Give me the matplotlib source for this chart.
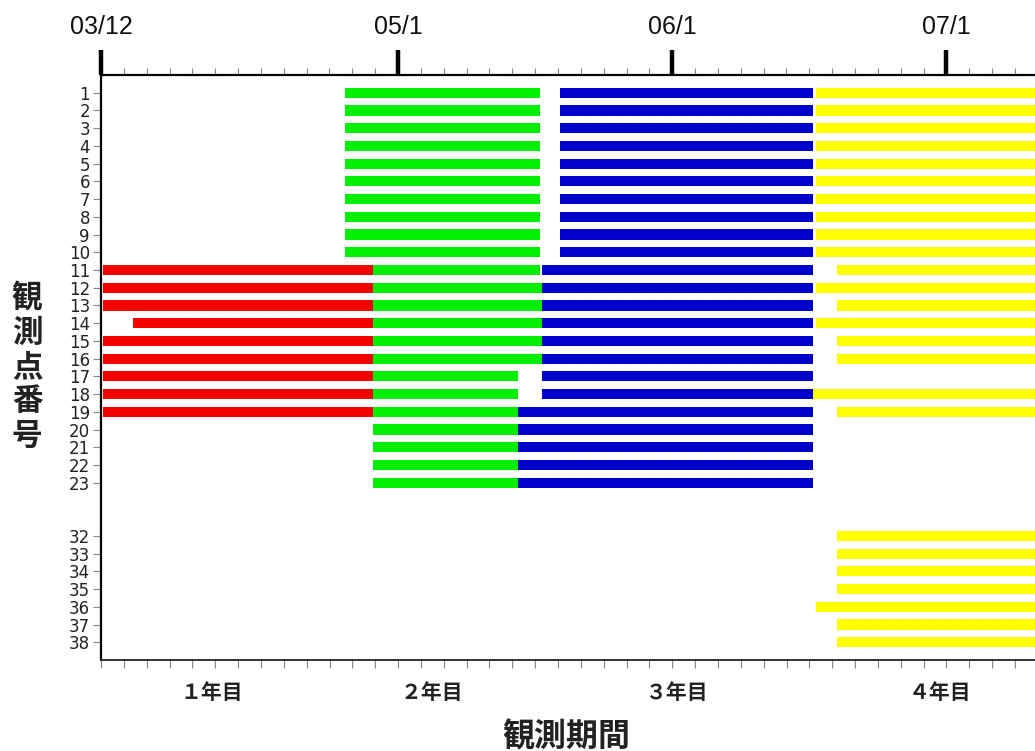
import matplotlib
matplotlib.use("Agg")
import matplotlib.pyplot as plt

plt.rcParams['font.family'] = ['Noto Sans CJK JP', 'DejaVu Sans']

# x unit: months since Dec 2003 (03/12)
rows = list(range(1, 24)) + list(range(32, 39))
row_pos = list(range(0, 23)) + list(range(25, 32))

red_rows = [11, 12, 13, 14, 15, 16, 17, 18, 19]
red_start = [0.1, 0.1, 0.1, 1.4, 0.1, 0.1, 0.1, 0.1, 0.1]
red_end = [11.9] * 9

green_rows = list(range(1, 24))
green_start = [10.7] * 10 + [11.9] * 13
green_end = [19.2] * 11 + [19.3] * 5 + [18.25] * 7

blue_rows = list(range(1, 24))
blue_start = [20.1] * 10 + [19.3] * 8 + [18.25] * 5
blue_end = [31.15] * 23

yellow_rows = [1, 2, 3, 4, 5, 6, 7, 8, 9, 10, 11, 12, 13, 14, 15, 16, 18, 19,
               32, 33, 34, 35, 36, 37, 38]
yellow_start = [31.3] * 10 + [32.2, 31.3, 32.2, 31.3, 32.2, 32.2, 31.15, 32.2,
                              32.2, 32.2, 32.2, 32.2, 31.3, 32.2, 32.2]
yellow_end = [42.0] * 25

top_ticks = [0, 13, 25, 37]
top_labels = ["03/12", "05/1", "06/1", "07/1"]
year_pos = [4.86, 14.5, 25.2, 36.7]
year_labels = ["１年目", "２年目", "３年目", "４年目"]
month_ticks = list(range(0, 41))

pos_of = dict(zip(rows, row_pos))

fig = plt.figure(figsize=(10.35, 7.51), dpi=100)
ax = fig.add_axes([101/1035, 91/751, 934/1035, 585/751])

series = [
    (red_rows, red_start, red_end, '#f40000'),
    (green_rows, green_start, green_end, '#00ee00'),
    (blue_rows, blue_start, blue_end, '#0000cc'),
    (yellow_rows, yellow_start, yellow_end, '#ffff00'),
]
for rr, st, en, col in series:
    ax.barh([pos_of[r] for r in rr], [e - s for s, e in zip(st, en)], left=st,
            height=0.57, color=col, linewidth=0)

ax.set_xlim(0, 934/22.85)
ax.set_ylim(32, -1)

ax.set_yticks(row_pos)
ax.set_yticklabels([str(r) for r in rows])
ax.tick_params(axis='y', length=6, width=0.8, color='#888888', pad=2,
               labelsize=12, labelcolor='#222222', labelfontfamily='DejaVu Sans')

ax.set_xticks(year_pos)
ax.set_xticklabels(year_labels, fontsize=15, fontweight='bold', color='#222222')
ax.tick_params(axis='x', which='major', length=0, pad=16)
ax.set_xticks(month_ticks, minor=True)
ax.tick_params(axis='x', which='minor', length=6, width=0.8, color='#888888')

for s in ['left', 'top']:
    ax.spines[s].set_linewidth(1.6)
    ax.spines[s].set_color('black')
ax.spines['bottom'].set_linewidth(1.4)
ax.spines['bottom'].set_color('#333333')
ax.spines['right'].set_visible(False)

sec = ax.secondary_xaxis('top')
sec.set_xticks(top_ticks)
sec.set_xticklabels(top_labels, fontfamily='Liberation Sans', fontsize=18, color='#111111')
sec.tick_params(axis='x', which='major', length=18, width=3.2, color='black', pad=8)
sec.set_xticks(month_ticks, minor=True)
sec.tick_params(axis='x', which='minor', length=5, width=0.8, color='#888888')
sec.spines['top'].set_visible(False)

fig.text(566/1035, 1 - 737/751, "観測期間", fontsize=23, fontweight='bold',
         ha='center', va='center', color='#222222')

for i, ch in enumerate("観測点番号"):
    fig.text(27/1035, 1 - (298 + i*34.5)/751, ch, fontsize=22, fontweight='bold',
             ha='center', va='center', color='#222222')

fig.savefig("out.png", dpi=100, facecolor='white')
